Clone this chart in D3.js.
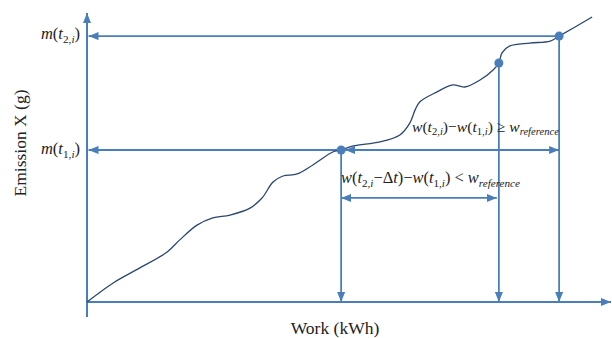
<!DOCTYPE html>
<html>
<head>
<meta charset="utf-8">
<script src="https://cdn.jsdelivr.net/npm/d3@7"></script>
<style>
  html, body { margin: 0; padding: 0; background: #fff; }
  svg { display: block; }
</style>
</head>
<body>
<svg id="chart" width="612" height="338"></svg>
<script>
// ---- data (arbitrary units, 0-100 on each axis) ----
const work     = [0, 5.0, 10.1, 15.3, 17.7, 21.0, 24.0, 27.3, 31.1, 33.4, 35.5, 37.4, 40.1, 43.1, 46.9, 48.5, 50.8, 55.9, 59.7, 61.6, 62.6, 63.5, 66.8, 69.8, 72.1, 75.0, 77.5, 78.6, 79.2, 80.7, 84.5, 88.4, 90.1, 96.4];
const emission = [0, 6.6, 11.8, 17.3, 21.5, 26.6, 29.1, 30.1, 32.5, 36.0, 41.5, 43.6, 44.3, 47.4, 51.9, 52.6, 54.0, 55.4, 57.8, 61.9, 66.4, 69.2, 72.7, 75.1, 74.4, 76.8, 80.3, 82.7, 86.2, 88.6, 89.6, 90.3, 92.0, 98.6];
// marked points: t1, t2 - Δt, t2 (indices into the curve)
const markedIdx = [15, 27, 32];
const yLabel = "Emission X (g)";
const xLabel = "Work (kWh)";

const FONT = "'Liberation Serif', 'Times New Roman', serif";
const svg = d3.select("#chart");
const blue = "#4a7ebb";
const navy = "#2b4670";

const x = d3.scaleLinear().domain([0, 100]).range([87, 611]);
const y = d3.scaleLinear().domain([0, 100]).range([302, 13]);

// arrow markers
const defs = svg.append("defs");
defs.append("marker")
  .attr("id", "arr")
  .attr("viewBox", "0 0 10 8")
  .attr("refX", 10).attr("refY", 4)
  .attr("markerWidth", 10).attr("markerHeight", 8)
  .attr("markerUnits", "userSpaceOnUse")
  .attr("orient", "auto-start-reverse")
  .append("path").attr("d", "M0,0 L10,4 L0,8 Z").attr("fill", blue);

// axes
svg.append("line")
  .attr("x1", x(0)).attr("y1", y(0) + 15).attr("x2", x(0)).attr("y2", y(100))
  .attr("stroke", blue).attr("stroke-width", 2).attr("marker-end", "url(#arr)");
svg.append("line")
  .attr("x1", x(0)).attr("y1", y(0)).attr("x2", x(100)).attr("y2", y(0))
  .attr("stroke", blue).attr("stroke-width", 2).attr("marker-end", "url(#arr)");

const pts = markedIdx.map(i => ({ w: work[i], e: emission[i] }));
const [p1, pm, p2] = pts;

const g = svg.append("g").attr("stroke", blue).attr("stroke-width", 1.8).attr("fill", "none");

// horizontal lines to y axis
g.append("line").attr("x1", x(p2.w)).attr("y1", y(p2.e)).attr("x2", x(0) + 1.5).attr("y2", y(p2.e))
  .attr("marker-end", "url(#arr)");
g.append("line").attr("x1", x(p1.w)).attr("y1", y(p1.e)).attr("x2", x(0) + 1.5).attr("y2", y(p1.e))
  .attr("marker-end", "url(#arr)");
// double arrow t1 -> t2 at level of m(t1)
g.append("line").attr("x1", x(p1.w) + 4).attr("y1", y(p1.e)).attr("x2", x(p2.w)).attr("y2", y(p1.e))
  .attr("marker-start", "url(#arr)").attr("marker-end", "url(#arr)");
// double arrow t1 -> t2-Δt
const yDelta = 36;
g.append("line").attr("x1", x(p1.w)).attr("y1", y(yDelta)).attr("x2", x(pm.w) - 2).attr("y2", y(yDelta))
  .attr("marker-start", "url(#arr)").attr("marker-end", "url(#arr)");
// vertical drops
pts.forEach(p => {
  g.append("line").attr("x1", x(p.w)).attr("y1", y(p.e)).attr("x2", x(p.w)).attr("y2", y(0))
    .attr("marker-end", "url(#arr)");
});

// curve
const line = d3.line().x((d, i) => x(work[i])).y((d, i) => y(emission[i])).curve(d3.curveCatmullRom.alpha(0.5));
svg.append("path").datum(work).attr("d", line)
  .attr("fill", "none").attr("stroke", navy).attr("stroke-width", 1.3);

// dots
svg.selectAll("circle.pt").data(pts).join("circle")
  .attr("cx", d => x(d.w)).attr("cy", d => y(d.e)).attr("r", 4.5).attr("fill", blue);

// labels
svg.append("text").attr("transform", `translate(26,143) rotate(-90)`)
  .attr("font-family", FONT).attr("fill", "#222")
  .attr("text-anchor", "middle").attr("font-size", 17.5).text(yLabel);
svg.append("text").attr("x", 335).attr("y", 334)
  .attr("font-family", FONT).attr("fill", "#222")
  .attr("text-anchor", "middle").attr("font-size", 17.5).text(xLabel);

// rich text helper: parts [text, italic, sub]
function rich(xp, yp, parts, size, anchor) {
  const t = svg.append("text").attr("x", xp).attr("y", yp).attr("font-size", size)
    .attr("font-family", FONT).attr("fill", "#222").attr("text-anchor", anchor || "start");
  let sub = false;
  parts.forEach(([s, it, isSub]) => {
    const ts = t.append("tspan").text(s).attr("font-style", it ? "italic" : "normal");
    if (isSub) ts.attr("font-size", size * 0.68);
    if (isSub && !sub) ts.attr("dy", size * 0.22);
    if (!isSub && sub) ts.attr("dy", -size * 0.22);
    sub = isSub;
  });
  return t;
}
rich(80, 39, [["m", 1], ["(", 0], ["t", 1], ["2,", 0, 1], ["i", 1, 1], [")", 0]], 16.5, "end");
rich(80, 154, [["m", 1], ["(", 0], ["t", 1], ["1,", 0, 1], ["i", 1, 1], [")", 0]], 16.5, "end");

rich(412, 132, [["w", 1], ["(", 0], ["t", 1], ["2,", 0, 1], ["i", 1, 1], [")\u2212", 0], ["w", 1], ["(", 0], ["t", 1], ["1,", 0, 1], ["i", 1, 1], [") \u2265 ", 0], ["w", 1], ["reference", 1, 1]], 15.6);
rich(341, 183, [["w", 1], ["(", 0], ["t", 1], ["2,", 0, 1], ["i", 1, 1], ["\u2212\u0394", 0], ["t", 1], [")\u2212", 0], ["w", 1], ["(", 0], ["t", 1], ["1,", 0, 1], ["i", 1, 1], [") < ", 0], ["w", 1], ["reference", 1, 1]], 16.4);
</script>
</body>
</html>
